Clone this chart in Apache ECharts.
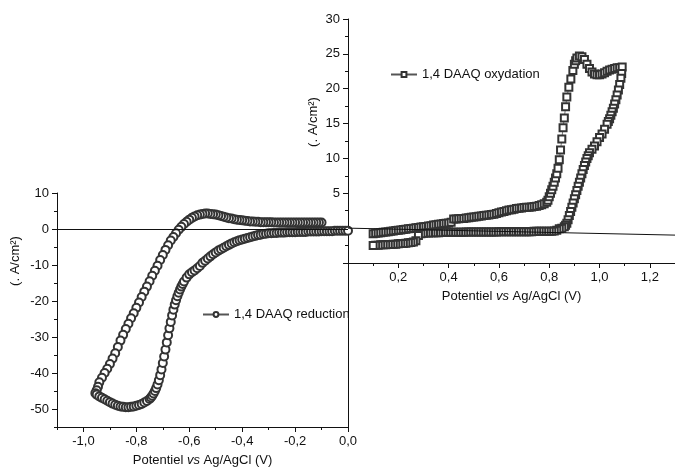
<!DOCTYPE html>
<html>
<head>
<meta charset="utf-8">
<script src="https://cdn.jsdelivr.net/npm/echarts@6/dist/echarts.min.js"></script>
<style>html,body{margin:0;background:#fff}#main{width:675px;height:473px}</style>
</head>
<body>
<div id="main"></div>
<script>
// axis tick labels
var leftXTicks = [-1.0, -0.8, -0.6, -0.4, -0.2, 0.0];
var leftYTicks = [-50, -40, -30, -20, -10, 0, 10];
var rightXTicks = [0.2, 0.4, 0.6, 0.8, 1.0, 1.2];
var rightYTicks = [5, 10, 15, 20, 25, 30];

// 1,4 DAAQ reduction : potential (V), current
var reductionForward = [
  [-0.10,1.8],[-0.11,1.8],[-0.12,1.8],[-0.13,1.8],[-0.14,1.8],[-0.15,1.8],[-0.16,1.8],[-0.17,1.8],[-0.18,1.8],[-0.19,1.8],
  [-0.20,1.8],[-0.21,1.8],[-0.22,1.8],[-0.23,1.8],[-0.24,1.8],[-0.25,1.8],[-0.26,1.8],[-0.27,1.8],[-0.28,1.8],[-0.29,1.9],
  [-0.30,1.9],[-0.31,1.9],[-0.32,1.9],[-0.33,1.9],[-0.34,2.0],[-0.35,2.0],[-0.36,2.1],[-0.37,2.1],[-0.38,2.2],[-0.39,2.3],
  [-0.40,2.4],[-0.41,2.5],[-0.42,2.6],[-0.43,2.7],[-0.44,2.9],[-0.45,3.0],[-0.46,3.2],[-0.47,3.4],[-0.48,3.6],[-0.49,3.8],
  [-0.50,4.0],[-0.51,4.1],[-0.52,4.2],[-0.53,4.3],[-0.54,4.3],[-0.55,4.2],[-0.56,4.0],[-0.57,3.8],[-0.58,3.5],[-0.59,3.1],
  [-0.60,2.6],[-0.61,2.0],[-0.62,1.4],[-0.63,0.6],[-0.64,-0.2],[-0.65,-1.2],[-0.66,-2.2],[-0.67,-3.2],[-0.68,-4.5],[-0.69,-5.8],
  [-0.70,-7.2],[-0.71,-8.6],[-0.72,-10.2],[-0.73,-11.6],[-0.74,-13.0],[-0.75,-14.5],[-0.76,-16.0],[-0.77,-17.4],[-0.78,-18.9],
  [-0.79,-20.4],[-0.80,-21.9],[-0.81,-23.4],[-0.82,-24.8],[-0.83,-26.3],[-0.84,-27.8],[-0.85,-29.4],[-0.86,-31.0],[-0.87,-32.8],
  [-0.88,-34.5],[-0.89,-36.0],[-0.90,-37.5],[-0.91,-38.8],[-0.92,-40.0],[-0.93,-41.3],[-0.94,-42.6],[-0.945,-43.8],[-0.95,-44.8],
  [-0.955,-45.6]
];
var reductionReturn = [
  [-0.95,-46.0],[-0.94,-46.5],[-0.93,-46.9],[-0.92,-47.3],[-0.91,-47.7],[-0.90,-48.1],[-0.89,-48.5],[-0.88,-48.8],[-0.87,-49.1],
  [-0.86,-49.3],[-0.85,-49.4],[-0.84,-49.5],[-0.83,-49.5],[-0.82,-49.4],[-0.81,-49.3],[-0.80,-49.1],[-0.79,-48.9],[-0.78,-48.6],
  [-0.77,-48.2],[-0.76,-47.8],[-0.75,-47.2],[-0.745,-46.8],[-0.74,-46.3],[-0.735,-45.7],[-0.73,-45.0],[-0.725,-44.2],[-0.72,-43.2],
  [-0.715,-42.0],[-0.71,-40.6],[-0.705,-39.0],[-0.70,-37.2],[-0.695,-35.4],[-0.69,-33.5],[-0.685,-31.5],[-0.68,-29.5],[-0.675,-27.6],
  [-0.67,-25.8],[-0.665,-24.0],[-0.66,-22.4],[-0.655,-21.0],[-0.65,-19.8],[-0.645,-18.7],[-0.64,-17.7],[-0.635,-16.8],[-0.63,-16.0],
  [-0.625,-15.3],[-0.62,-14.6],[-0.61,-13.5],[-0.60,-12.6],[-0.59,-12.0],[-0.58,-11.5],[-0.57,-10.9],[-0.56,-10.3],[-0.55,-9.4],
  [-0.54,-8.8],[-0.53,-8.2],[-0.52,-7.6],[-0.51,-7.0],[-0.50,-6.5],[-0.49,-6.0],[-0.48,-5.6],[-0.47,-5.2],[-0.46,-4.8],[-0.45,-4.4],
  [-0.44,-4.0],[-0.43,-3.7],[-0.42,-3.4],[-0.41,-3.1],[-0.40,-2.9],[-0.39,-2.7],[-0.38,-2.5],[-0.37,-2.3],[-0.36,-2.1],[-0.35,-1.9],
  [-0.34,-1.7],[-0.33,-1.6],[-0.32,-1.4],[-0.31,-1.3],[-0.30,-1.2],[-0.29,-1.2],[-0.28,-1.1],[-0.27,-1.1],[-0.26,-1.0],[-0.25,-1.0],
  [-0.24,-1.0],[-0.23,-0.9],[-0.22,-0.9],[-0.21,-0.9],[-0.20,-0.9],[-0.19,-0.8],[-0.18,-0.8],[-0.17,-0.8],[-0.16,-0.8],[-0.15,-0.7],
  [-0.14,-0.7],[-0.13,-0.7],[-0.12,-0.7],[-0.11,-0.7],[-0.10,-0.6],[-0.09,-0.6],[-0.08,-0.6],[-0.07,-0.6],[-0.06,-0.6],[-0.05,-0.5],
  [-0.04,-0.5],[-0.03,-0.5],[-0.02,-0.5],[-0.01,-0.5],[0.0,-0.5]
];

// 1,4 DAAQ oxydation : potential (V), current
var oxidationForward = [
  [0.10,-0.8],[0.11,-0.75],[0.12,-0.7],[0.13,-0.65],[0.14,-0.6],[0.15,-0.55],[0.16,-0.5],[0.17,-0.45],[0.18,-0.4],[0.19,-0.35],
  [0.20,-0.3],[0.21,-0.25],[0.22,-0.2],[0.23,-0.15],[0.24,-0.1],[0.25,-0.05],[0.26,0.0],[0.27,0.05],[0.28,0.1],[0.29,0.15],
  [0.30,0.2],[0.31,0.25],[0.32,0.3],[0.33,0.35],[0.34,0.45],[0.35,0.5],[0.36,0.55],[0.37,0.6],[0.38,0.65],[0.39,0.7],
  [0.40,0.75],[0.41,0.85],[0.42,1.3],[0.43,1.3],[0.44,1.35],[0.45,1.4],[0.46,1.4],[0.47,1.45],[0.48,1.5],[0.49,1.55],
  [0.50,1.6],[0.51,1.65],[0.52,1.7],[0.53,1.75],[0.54,1.8],[0.55,1.85],[0.56,1.9],[0.57,1.95],[0.58,2.0],[0.59,2.1],
  [0.60,2.2],[0.61,2.3],[0.62,2.4],[0.63,2.5],[0.64,2.6],[0.65,2.65],[0.66,2.7],[0.67,2.8],[0.68,2.85],[0.69,2.9],
  [0.70,2.95],[0.71,3.0],[0.72,3.0],[0.73,3.05],[0.74,3.1],[0.75,3.15],[0.76,3.25],[0.77,3.35],[0.78,3.5],[0.79,3.7],
  [0.795,4.0],[0.80,4.5],[0.805,5.0],[0.81,5.5],[0.815,6.0],[0.82,6.6],[0.825,7.2],[0.83,7.8],[0.835,8.6],[0.84,9.8],
  [0.845,11.2],[0.85,12.8],[0.855,14.4],[0.86,15.8],[0.865,17.4],[0.87,18.8],[0.878,20.2],[0.886,21.4],[0.894,22.6],[0.90,23.5],
  [0.905,24.0],[0.91,24.4],[0.92,24.7],[0.93,24.6],[0.94,24.2],[0.95,23.5],[0.96,22.9],[0.97,22.4],[0.98,22.1],[0.99,22.0],
  [1.00,22.0],[1.01,22.1],[1.02,22.3],[1.03,22.5],[1.04,22.7],[1.05,22.8],[1.06,22.9],[1.07,23.0],[1.08,23.0],[1.09,23.1]
];
var oxidationReturn = [
  [1.088,22.2],[1.085,21.5],[1.08,20.6],[1.075,19.8],[1.07,19.1],[1.065,18.4],[1.06,17.8],[1.055,17.2],[1.05,16.7],[1.045,16.2],
  [1.04,15.7],[1.035,15.3],[1.03,14.9],[1.02,14.2],[1.01,13.5],[1.00,13.0],[0.99,12.4],[0.98,11.8],[0.97,11.3],[0.96,10.8],
  [0.955,10.4],[0.95,10.0],[0.945,9.5],[0.94,9.0],[0.935,8.4],[0.93,7.8],[0.925,7.2],[0.92,6.6],[0.915,6.0],[0.91,5.4],
  [0.905,4.8],[0.90,4.2],[0.895,3.6],[0.89,3.0],[0.885,2.4],[0.88,1.8],[0.875,1.2],[0.87,0.7],[0.865,0.4],[0.86,0.2],
  [0.85,0.0],[0.84,-0.1],[0.83,-0.3],[0.82,-0.4],[0.81,-0.45],[0.80,-0.45],[0.79,-0.45],[0.78,-0.45],[0.77,-0.45],[0.76,-0.45],
  [0.75,-0.45],[0.74,-0.45],[0.73,-0.5],[0.72,-0.5],[0.71,-0.5],[0.70,-0.5],[0.69,-0.5],[0.68,-0.5],[0.67,-0.5],[0.66,-0.5],
  [0.65,-0.5],[0.64,-0.5],[0.63,-0.5],[0.62,-0.5],[0.61,-0.5],[0.60,-0.5],[0.59,-0.55],[0.58,-0.55],[0.57,-0.55],[0.56,-0.55],
  [0.55,-0.55],[0.54,-0.55],[0.53,-0.55],[0.52,-0.55],[0.51,-0.55],[0.50,-0.55],[0.49,-0.55],[0.48,-0.55],[0.47,-0.55],[0.46,-0.6],
  [0.45,-0.6],[0.44,-0.6],[0.43,-0.6],[0.42,-0.6],[0.41,-0.6],[0.40,-0.6],[0.39,-0.6],[0.38,-0.6],[0.37,-0.6],[0.36,-0.65],
  [0.35,-0.65],[0.34,-0.65],[0.33,-0.65],[0.32,-0.7],[0.31,-0.7],[0.30,-0.75],[0.29,-0.8],[0.28,-1.05],[0.27,-1.8],[0.26,-2.0],
  [0.25,-2.05],[0.24,-2.1],[0.23,-2.15],[0.22,-2.2],[0.21,-2.2],[0.20,-2.25],[0.19,-2.3],[0.18,-2.3],[0.17,-2.35],[0.16,-2.35],
  [0.15,-2.4],[0.14,-2.4],[0.13,-2.4],[0.12,-2.45],[0.11,-2.45],[0.10,-2.5]
];

var FONT = 'Liberation Sans';
var INK = '#111';

function comma(v) { return v.toFixed(1).replace('.', ','); }

var axisLine = { show: true, onZero: false, lineStyle: { color: INK, width: 1 } };
var noLine = { show: false, onZero: false };
var labelStyle = { color: INK, fontSize: 13, fontFamily: FONT };
var xName = 'Potentiel {i|vs} Ag/AgCl (V)';
var xNameStyle = {
  color: INK, fontSize: 13, fontFamily: FONT,
  rich: { i: { fontStyle: 'italic', color: INK, fontSize: 13, fontFamily: FONT } }
};

var myChart = echarts.init(document.getElementById('main'));
var option = {
  animation: false,
  backgroundColor: '#fff',
  grid: [
    { left: 57, right: 327, top: 193, bottom: 46 },
    { left: 348, right: 0, top: 19, bottom: 210 }
  ],
  xAxis: [
    { // left plot, major ticks + labels
      type: 'value', gridIndex: 0, position: 'bottom', min: -1.1, max: 0, interval: 0.1,
      axisLine: axisLine, splitLine: { show: false },
      axisTick: { show: true, length: 5, customValues: leftXTicks, lineStyle: { color: INK } },
      axisLabel: Object.assign({ margin: 8, customValues: leftXTicks, formatter: comma }, labelStyle),
      name: xName, nameLocation: 'middle', nameGap: 27, nameTextStyle: xNameStyle
    },
    { // left plot, minor ticks
      type: 'value', gridIndex: 0, position: 'bottom', min: -1.1, max: 0, interval: 0.1,
      axisLine: noLine, splitLine: { show: false }, axisLabel: { show: false },
      axisTick: { show: true, length: 3, lineStyle: { color: INK } }
    },
    { // right plot
      type: 'value', gridIndex: 1, position: 'bottom', min: 0, max: 1.3, interval: 0.2,
      axisLine: axisLine, splitLine: { show: false },
      axisTick: { show: true, length: 5, lineStyle: { color: INK } },
      minorTick: { show: true, splitNumber: 2, length: 3, lineStyle: { color: INK } },
      axisLabel: Object.assign({ margin: 8, customValues: rightXTicks, formatter: comma }, labelStyle),
      name: xName, nameLocation: 'middle', nameGap: 27, nameTextStyle: xNameStyle
    }
  ],
  yAxis: [
    { // left plot, major ticks + labels
      type: 'value', gridIndex: 0, position: 'left', min: -55, max: 10, interval: 5,
      axisLine: axisLine, splitLine: { show: false },
      axisTick: { show: true, length: 5, customValues: leftYTicks, lineStyle: { color: INK } },
      axisLabel: Object.assign({ margin: 8, customValues: leftYTicks }, labelStyle)
    },
    { // left plot, minor ticks
      type: 'value', gridIndex: 0, position: 'left', min: -55, max: 10, interval: 5,
      axisLine: noLine, splitLine: { show: false }, axisLabel: { show: false },
      axisTick: { show: true, length: 3, lineStyle: { color: INK } }
    },
    { // vertical line closing the left plot
      type: 'value', gridIndex: 0, position: 'right', min: -55, max: 10,
      axisLine: axisLine, splitLine: { show: false }, axisLabel: { show: false }, axisTick: { show: false }
    },
    { // right plot
      type: 'value', gridIndex: 1, position: 'left', min: -5, max: 30, interval: 5,
      axisLine: axisLine, splitLine: { show: false },
      axisTick: { show: true, length: 5, lineStyle: { color: INK } },
      minorTick: { show: true, splitNumber: 2, length: 3, lineStyle: { color: INK } },
      axisLabel: Object.assign({ margin: 8, customValues: rightYTicks }, labelStyle)
    }
  ],
  legend: [
    {
      data: ['1,4 DAAQ reduction'], left: 202, top: 308, padding: 0,
      itemWidth: 26, itemHeight: 6, textStyle: labelStyle
    },
    {
      data: ['1,4 DAAQ oxydation'], left: 390, top: 68, padding: 0,
      itemWidth: 26, itemHeight: 6, textStyle: labelStyle
    }
  ],
  graphic: [
    {
      type: 'text', x: 15, y: 261, rotation: Math.PI / 2,
      style: { text: '(. A/cm²)', font: '13px "Liberation Sans"', fill: INK,
        align: 'center', verticalAlign: 'middle', textAlign: 'center', textVerticalAlign: 'middle' }
    },
    {
      type: 'text', x: 313, y: 122, rotation: Math.PI / 2,
      style: { text: '(. A/cm²)', font: '13px "Liberation Sans"', fill: INK,
        align: 'center', verticalAlign: 'middle', textAlign: 'center', textVerticalAlign: 'middle' }
    }
  ],
  series: [
    {
      name: '1,4 DAAQ reduction', type: 'line', xAxisIndex: 0, yAxisIndex: 0,
      data: reductionForward.concat(reductionReturn),
      symbol: 'emptyCircle', symbolSize: 8,
      lineStyle: { color: '#555', width: 0.8 },
      itemStyle: { color: '#333', borderWidth: 0.9 },
      markLine: {
        silent: true, symbol: 'none', label: { show: false },
        lineStyle: { color: INK, width: 1, type: 'solid' },
        data: [{ yAxis: 0 }]
      },
      z: 3
    },
    {
      name: '1,4 DAAQ oxydation', type: 'line', xAxisIndex: 2, yAxisIndex: 3,
      data: oxidationForward.concat(oxidationReturn),
      symbol: 'emptyRect', symbolSize: 7,
      lineStyle: { color: '#555', width: 0.8 },
      itemStyle: { color: '#333', borderWidth: 0.9 },
      markLine: {
        silent: true, symbol: 'none', label: { show: false },
        lineStyle: { color: INK, width: 1, type: 'solid' },
        data: [[{ coord: [0, 0] }, { coord: [1.3, -1] }]]
      },
      z: 3
    }
  ]
};
myChart.setOption(option);
</script>
</body>
</html>
